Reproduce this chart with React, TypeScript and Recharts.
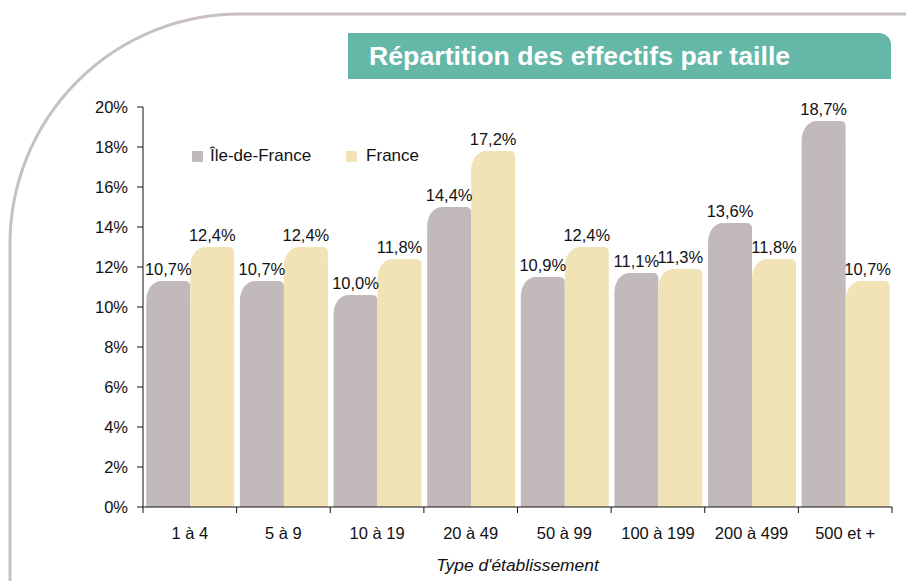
import { BarChart, Bar, XAxis, YAxis, LabelList } from "recharts";

const categories = ["1 à 4", "5 à 9", "10 à 19", "20 à 49", "50 à 99", "100 à 199", "200 à 499", "500 et +"];
const ileDeFrance = [10.7, 10.7, 10.0, 14.4, 10.9, 11.1, 13.6, 18.7];
const france = [12.4, 12.4, 11.8, 17.2, 12.4, 11.3, 11.8, 10.7];
const yTicks = [0, 2, 4, 6, 8, 10, 12, 14, 16, 18, 20];
const seriesNames = ["Île-de-France", "France"];

const data = categories.map((name, i) => ({
    name,
    idf: ileDeFrance[i],
    fr: france[i],
}));

const GREY = "#c2baba";
const BEIGE = "#f1e3b6";
const FONT = "'Liberation Sans', Arial, sans-serif";

const W = 906;
const H = 581;
const MARGIN = { top: 107, right: 14, bottom: 0, left: 0 };
const YAXIS_W = 143;
const XAXIS_H = 74;
const BAND = (W - MARGIN.left - YAXIS_W - MARGIN.right) / categories.length;
// bars look taller than their value (3D-ish front face in the original)
const LIFT = 12;

const fmt = (v: number) => v.toFixed(1).replace(".", ",") + "%";

const RoundedBar = (props: any) => {
    const { x, y, width, height, fill } = props;
    if (!width || height == null) return null;
    const top = y - LIFT;
    const bottom = y + height;
    const rx = 15;
    const ry = 19;
    const r2 = 5;
    const d = `M${x},${bottom} V${top + ry} A${rx},${ry} 0 0 1 ${x + rx},${top} H${x + width - r2} A${r2},${r2} 0 0 1 ${x + width},${top + r2} V${bottom} Z`;
    return <path d={d} fill={fill} />;
};

const BarLabel = (props: any) => {
    const { x, y, width, value } = props;
    return (
        <text x={x + width / 2} y={y - LIFT - 6} textAnchor="middle" fontSize={16.5} fontFamily={FONT} fill="#111">
            {fmt(value)}
        </text>
    );
};

const CategoryTick = (props: any) => {
    const { x, y, payload, index } = props;
    const left = x - BAND / 2;
    const right = x + BAND / 2;
    return (
        <g>
            <line x1={left} y1={y} x2={left} y2={y + 6} stroke="#111" />
            {index === categories.length - 1 && <line x1={right} y1={y} x2={right} y2={y + 6} stroke="#111" />}
            <text x={x} y={y + 32} textAnchor="middle" fontSize={16.5} fontFamily={FONT} fill="#111">
                {payload.value}
            </text>
        </g>
    );
};

const LegendBox = () => (
    <div
        style={{
            position: "absolute",
            left: 192,
            top: 146,
            display: "flex",
            fontFamily: FONT,
            fontSize: 17,
            color: "#111",
            lineHeight: "20px",
        }}
    >
        <div style={{ display: "flex", alignItems: "center", marginRight: 35 }}>
            <span style={{ width: 11, height: 11, background: GREY, display: "inline-block", marginRight: 7 }} />
            {seriesNames[0]}
        </div>
        <div style={{ display: "flex", alignItems: "center" }}>
            <span style={{ width: 11, height: 11, background: BEIGE, display: "inline-block", marginRight: 9 }} />
            {seriesNames[1]}
        </div>
    </div>
);

export default function App() {
    return (
        <div style={{ position: "fixed", top: 0, left: 0, width: W, height: H, background: "#fff", overflow: "hidden" }}>
            <svg width={W} height={H} style={{ position: "absolute", left: 0, top: 0 }}>
                <path d="M906,14 H240 A230,230 0 0 0 10,244 V581" fill="none" stroke="#c8c0c0" strokeWidth={3} />
            </svg>
            <div
                style={{
                    position: "absolute",
                    left: 348,
                    top: 33,
                    width: 543,
                    height: 46,
                    background: "#65b7a7",
                    borderTopRightRadius: 12,
                    color: "#fff",
                    fontFamily: FONT,
                    fontWeight: "bold",
                    fontSize: 26.7,
                    lineHeight: "46px",
                    paddingLeft: 21,
                    boxSizing: "border-box",
                }}
            >
                Répartition des effectifs par taille
            </div>
            <div style={{ position: "absolute", left: 0, top: 0 }}>
                <BarChart width={W} height={H} data={data} margin={MARGIN} barCategoryGap="3.5%" barGap={0}>
                    <XAxis
                        dataKey="name"
                        height={XAXIS_H}
                        axisLine={{ stroke: "#111" }}
                        tickLine={false}
                        tickSize={0}
                        tickMargin={0}
                        interval={0}
                        tick={<CategoryTick />}
                        label={{
                            value: "Type d'établissement",
                            position: "insideBottom",
                            offset: 10,
                            style: { fontFamily: FONT, fontSize: 17.4, fontStyle: "italic", fill: "#111" },
                        }}
                    />
                    <YAxis
                        width={YAXIS_W}
                        domain={[0, 20]}
                        ticks={yTicks}
                        allowDataOverflow
                        tickFormatter={(v: number) => `${v}%`}
                        axisLine={{ stroke: "#111" }}
                        tickLine={{ stroke: "#111" }}
                        tickSize={6}
                        tickMargin={9}
                        tick={{ fontFamily: FONT, fontSize: 16.5, fill: "#111" }}
                    />
                    <Bar dataKey="idf" name={seriesNames[0]} fill={GREY} shape={<RoundedBar />} isAnimationActive={false}>
                        <LabelList dataKey="idf" content={<BarLabel />} />
                    </Bar>
                    <Bar dataKey="fr" name={seriesNames[1]} fill={BEIGE} shape={<RoundedBar />} isAnimationActive={false}>
                        <LabelList dataKey="fr" content={<BarLabel />} />
                    </Bar>
                </BarChart>
            </div>
            <LegendBox />
        </div>
    );
}
